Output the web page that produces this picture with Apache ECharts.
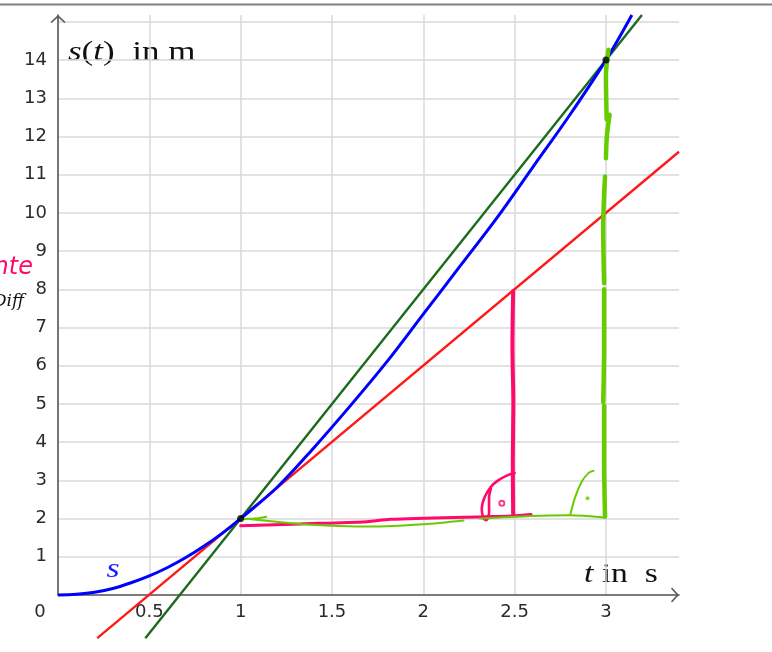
<!DOCTYPE html>
<html><head><meta charset="utf-8">
<script src="https://cdn.jsdelivr.net/npm/echarts@6/dist/echarts.min.js"></script>
<style>html,body{margin:0;padding:0;background:#fff}#c{width:772px;height:652px}</style>
</head><body><div id="c"></div>
<script>
// ---- data ----
const xTickLabels = ['0', '0.5', '1', '1.5', '2', '2.5', '3'];
const yTickLabels = ['1','2','3','4','5','6','7','8','9','10','11','12','13','14'];
const curveT = [0, 0.1, 0.2, 0.3, 0.4, 0.5, 0.6, 0.7, 0.8, 0.9, 1.0, 1.2, 1.4, 1.6, 1.8, 2.0, 2.2, 2.4, 2.6, 2.8, 3.0, 3.142];
const curveS = [0, 0.02, 0.07, 0.17, 0.32, 0.5, 0.72, 0.98, 1.28, 1.62, 2.0, 2.82, 3.85, 4.95, 6.1, 7.35, 8.6, 9.85, 11.2, 12.55, 14.0, 15.18];
const tangentT = [0.215, 3.4];
const tangentS = [-1.13, 11.6];
const secantT = [0.478, 3.197];
const secantS = [-1.13, 15.18];
const markedPoints = [[1, 2], [3, 14]];
// hand-drawn annotations
const pinkBase = [[1.0,1.81],[1.33,1.86],[1.69,1.92],[1.82,1.98],[2.33,2.05],[2.48,2.07],[2.59,2.11]];
const pinkVertical = [[2.492,7.95],[2.488,6.5],[2.493,5.0],[2.49,3.5],[2.492,2.12]];
const pinkArc = [[2.5,3.19],[2.46,3.13],[2.41,3.0],[2.37,2.83],[2.335,2.55],[2.32,2.25],[2.33,2.0],[2.345,1.96],[2.36,2.15],[2.36,2.55],[2.37,2.78]];
const pinkDot = [[2.43,2.4]];
const greenBase1 = [[1.0,1.99],[1.08,2.0],[1.14,2.05]];
const greenBase2 = [[1.05,1.99],[1.33,1.86],[1.71,1.79],[2.0,1.85],[2.22,1.95]];
const greenBase3 = [[2.31,2.0],[2.59,2.07],[2.8,2.09],[2.99,2.03]];
const greenV1 = [[3.014,14.27],[3.0,13.6],[3.004,12.45]];
const greenV2 = [[3.02,12.57],[3.005,12.0],[3.0,11.43]];
const greenV3 = [[2.995,10.95],[2.985,9.64],[2.99,8.16]];
const greenV4 = [[2.99,8.0],[2.99,6.5],[2.985,5.05]];
const greenV5 = [[2.99,4.95],[2.99,3.5],[2.995,2.05]];
const greenArc = [[2.804,2.09],[2.832,2.57],[2.868,2.97],[2.904,3.19],[2.932,3.25]];
const greenDot = [[2.899,2.53]];

const PINK = '#ff0a6c', LIME = '#66cc00';
const chevron = 'path://M0,7 L7.5,0 L15,7 L13.8,8 L7.5,2.2 L1.2,8 Z';

function zip(a, b) { return a.map((v, i) => [v, b[i]]); }
function stroke(data, color, width, z) {
  return { type: 'line', data, symbol: 'none', smooth: 0.3, clip: false, silent: true, z: z || 5,
    lineStyle: { color, width, cap: 'round', join: 'round' } };
}

const chart = echarts.init(document.getElementById('c'), null, { renderer: 'canvas' });
const option = {
  animation: false,
  backgroundColor: '#fff',
  grid: { left: 58, right: 93, top: 15, bottom: 57, outerBoundsMode: 'none', containLabel: false },
  xAxis: {
    type: 'value', min: 0, max: 3.4, interval: 0.5,
    axisLine: { show: true, onZero: true, lineStyle: { color: '#5a5a5a', width: 1.6 },
      symbol: ['none', chevron], symbolSize: [15, 8], symbolOffset: [0, -4] },
    axisTick: { show: false },
    splitLine: { show: true, showMaxLine: false, lineStyle: { color: '#d9d9d9', width: 1.5 } },
    axisLabel: {
      margin: 8, color: '#2b2b2b', fontSize: 18, fontFamily: 'DejaVu Sans',
      formatter: v => {
        const lbl = String(v);
        if (!xTickLabels.includes(lbl)) return '';
        return v === 0 ? '{o|0}' : lbl;
      },
      rich: { o: { padding: [0, 36, 0, 0], fontSize: 18, fontFamily: 'DejaVu Sans', color: '#2b2b2b' } }
    }
  },
  yAxis: {
    type: 'value', min: 0, max: 15.18, interval: 1,
    axisLine: { show: true, lineStyle: { color: '#5a5a5a', width: 1.6 },
      symbol: ['none', chevron], symbolSize: [15, 8], symbolOffset: [0, -4] },
    axisTick: { show: false },
    splitLine: { show: true, showMaxLine: false, lineStyle: { color: '#d9d9d9', width: 1.5 } },
    axisLabel: {
      margin: 11, color: '#2b2b2b', fontSize: 18, fontFamily: 'DejaVu Sans',
      formatter: v => yTickLabels.includes(String(v)) ? String(v) : ''
    }
  },
  series: [
    { type: 'line', name: 'tangent', data: zip(tangentT, tangentS), symbol: 'none', clip: false, z: 3,
      lineStyle: { color: '#ff1a1a', width: 2.4 } },
    { type: 'line', name: 'secant', data: zip(secantT, secantS), symbol: 'none', clip: false, z: 3,
      lineStyle: { color: '#1c6b1c', width: 2.4 } },
    { type: 'line', name: 's', data: zip(curveT, curveS), symbol: 'none', smooth: 0.35, clip: false, z: 4,
      lineStyle: { color: '#0000ff', width: 3 } },
    stroke(pinkBase, PINK, 3),
    stroke(pinkVertical, PINK, 4),
    stroke(pinkArc, PINK, 2.6),
    { type: 'scatter', data: pinkDot, symbol: 'emptyCircle', symbolSize: 5, clip: false, silent: true, z: 6,
      itemStyle: { color: PINK, borderColor: PINK, borderWidth: 1.5 } },
    stroke(greenBase1, LIME, 2),
    stroke(greenBase2, LIME, 2),
    stroke(greenBase3, LIME, 2),
    stroke(greenV1, LIME, 4.5),
    stroke(greenV2, LIME, 4.5),
    stroke(greenV3, LIME, 4.5),
    stroke(greenV4, LIME, 4.5),
    stroke(greenV5, LIME, 4.5),
    stroke(greenArc, LIME, 2),
    { type: 'scatter', data: greenDot, symbol: 'circle', symbolSize: 4, clip: false, silent: true, z: 6,
      itemStyle: { color: LIME } },
    { type: 'scatter', data: markedPoints, symbol: 'circle', symbolSize: 7, clip: false, silent: true, z: 7,
      itemStyle: { color: '#000' } }
  ],
  graphic: [
    { type: 'line', shape: { x1: 0, y1: 4.5, x2: 772, y2: 4.5 }, style: { stroke: '#808080', lineWidth: 2 }, silent: true },
    { type: 'text', x: 68, y: 53, scaleX: 1.25, silent: true,
      style: { text: '{it|s}({it|t})  in m', fontSize: 28, fontFamily: 'Liberation Serif', fill: '#111',
        verticalAlign: 'middle', align: 'left',
        rich: { it: { fontStyle: 'italic', fontSize: 28, fontFamily: 'Liberation Serif', fill: '#111' } } } },
    { type: 'text', x: 584, y: 575, scaleX: 1.2, silent: true,
      style: { text: '{it|t} in  s', fontSize: 28, fontFamily: 'Liberation Serif', fill: '#111',
        verticalAlign: 'middle', align: 'left',
        rich: { it: { fontStyle: 'italic', fontSize: 28, fontFamily: 'Liberation Serif', fill: '#111' } } } },
    { type: 'text', x: 113, y: 570, scaleX: 1.2, silent: true,
      style: { text: 's', fontSize: 28, fontStyle: 'italic', fontFamily: 'Liberation Serif', fill: '#1a1aff',
        verticalAlign: 'middle', align: 'center' } },
    { type: 'text', x: 33, y: 268, silent: true,
      style: { text: 'Sekante', fontSize: 24, fontStyle: 'italic', fontFamily: 'DejaVu Sans', fill: PINK,
        verticalAlign: 'middle', align: 'right' } },
    { type: 'text', x: 24, y: 302, silent: true,
      style: { text: 'Diff', fontSize: 17, fontStyle: 'italic', fontFamily: 'DejaVu Serif', fill: '#111',
        verticalAlign: 'middle', align: 'right' } }
  ]
};
chart.setOption(option);
</script>
</body></html>
